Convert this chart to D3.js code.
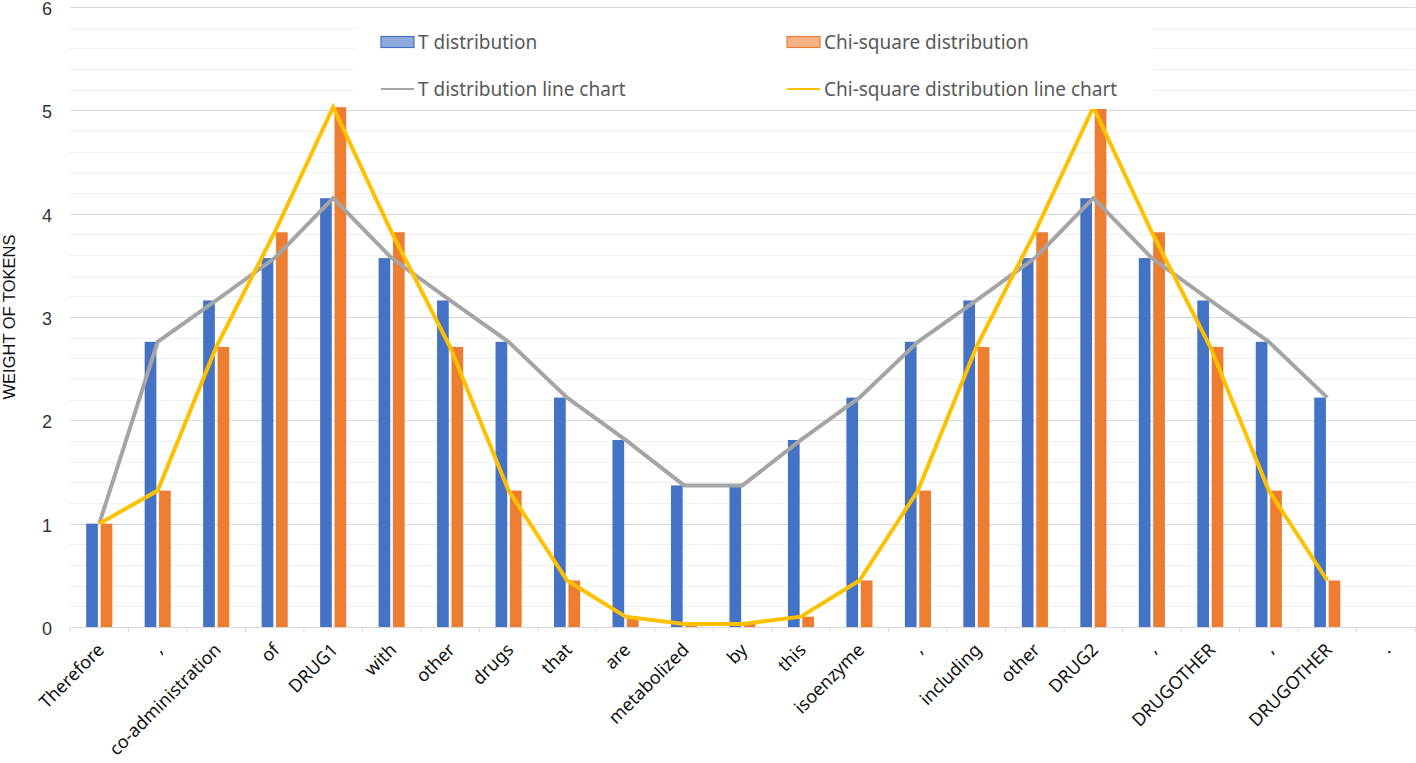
<!DOCTYPE html>
<html>
<head>
<meta charset="utf-8">
<script src="https://cdn.jsdelivr.net/npm/d3@7"></script>
<style>
  html, body { margin: 0; padding: 0; background: #fff; }
  svg { display: block; }
</style>
</head>
<body>
<svg id="chart" width="1416" height="763"></svg>
<script>
const categories = ["Therefore", ",", "co-administration", "of", "DRUG1", "with", "other", "drugs", "that", "are", "metabolized", "by", "this", "isoenzyme", ",", "including", "other", "DRUG2", ",", "DRUGOTHER", ",", "DRUGOTHER", "."];
const tValues =   [1.00, 2.76, 3.16, 3.57, 4.15, 3.57, 3.16, 2.76, 2.22, 1.81, 1.37, 1.37, 1.81, 2.22, 2.76, 3.16, 3.57, 4.15, 3.57, 3.16, 2.76, 2.22, null];
const chiValues = [1.00, 1.32, 2.71, 3.82, 5.03, 3.82, 2.71, 1.32, 0.45, 0.10, 0.03, 0.03, 0.10, 0.45, 1.32, 2.71, 3.82, 5.03, 3.82, 2.71, 1.32, 0.45, null];
const yTicks = [0, 1, 2, 3, 4, 5, 6];
const seriesNames = ["T distribution", "Chi-square distribution", "T distribution line chart", "Chi-square distribution line chart"];
const yTitle = "WEIGHT OF TOKENS";

(function () {
const svg = d3.select("#chart");
const pLeft = 70, pRight = 1415, pTop = 7, pBottom = 627;
const labelFont = "'Noto Sans', 'DejaVu Sans', sans-serif";
const numFont = "'Liberation Sans', Arial, sans-serif";

const x = d3.scaleBand().domain(d3.range(categories.length)).range([pLeft, pRight]).padding(0);
const y = d3.scaleLinear().domain([0, 6]).range([pBottom, pTop]);

// minor gridlines
const minor = d3.range(0, 6.001, 0.2).filter(v => Math.abs(v - Math.round(v)) > 1e-6);
svg.append("g").selectAll("line").data(minor).join("line")
  .attr("x1", pLeft).attr("x2", pRight)
  .attr("y1", d => Math.round(y(d)) + 0.5).attr("y2", d => Math.round(y(d)) + 0.5)
  .attr("stroke", "#f0f0f0").attr("stroke-width", 1);

// major gridlines
svg.append("g").selectAll("line").data(yTicks.filter(d => d > 0)).join("line")
  .attr("x1", pLeft).attr("x2", pRight)
  .attr("y1", d => Math.round(y(d)) + 0.5).attr("y2", d => Math.round(y(d)) + 0.5)
  .attr("stroke", "#d9d9d9").attr("stroke-width", 1);

// y axis labels
const yAxis = d3.axisLeft(y).tickValues(yTicks).tickSize(0).tickPadding(18).tickFormat(d3.format("d"));
const ya = svg.append("g").attr("transform", `translate(${pLeft},0)`).call(yAxis);
ya.select(".domain").remove();
ya.selectAll("text").attr("font-family", numFont).attr("font-size", 18).attr("fill", "#333")
  .attr("dy", "0.42em");

// y title
svg.append("text")
  .attr("transform", `translate(15,${y(3)}) rotate(-90)`)
  .attr("text-anchor", "middle")
  .attr("font-family", numFont).attr("font-size", 16.5).attr("fill", "#111")
  .text(yTitle);

// bars
const bw = 11.7, gap = 2.7;
const bars = svg.append("g");
bars.selectAll("rect.t").data(tValues.map((v, i) => ({v, i})).filter(d => d.v != null)).join("rect")
  .attr("class", "t")
  .attr("x", d => x(d.i) + x.bandwidth() / 2 - gap / 2 - bw)
  .attr("width", bw)
  .attr("y", d => y(d.v))
  .attr("height", d => y(0) - y(d.v))
  .attr("fill", "#4472C4");
bars.selectAll("rect.c").data(chiValues.map((v, i) => ({v, i})).filter(d => d.v != null)).join("rect")
  .attr("class", "c")
  .attr("x", d => x(d.i) + x.bandwidth() / 2 + gap / 2)
  .attr("width", bw)
  .attr("y", d => y(d.v))
  .attr("height", d => y(0) - y(d.v))
  .attr("fill", "#ED7D31");

// x axis line + ticks at band boundaries
svg.append("line").attr("x1", pLeft).attr("x2", pRight).attr("y1", pBottom + 0.5).attr("y2", pBottom + 0.5)
  .attr("stroke", "#d9d9d9").attr("stroke-width", 1);
svg.append("g").selectAll("line").data(d3.range(categories.length + 1)).join("line")
  .attr("x1", i => pLeft + i * x.bandwidth()).attr("x2", i => pLeft + i * x.bandwidth())
  .attr("y1", pBottom).attr("y2", pBottom + 5)
  .attr("stroke", "#d9d9d9").attr("stroke-width", 1);

// x labels
svg.append("g").selectAll("text").data(categories).join("text")
  .attr("transform", (d, i) => `translate(${x(i) + x.bandwidth() / 2 + 6},${651}) rotate(-45)`)
  .attr("text-anchor", "end")
  .attr("font-family", labelFont).attr("font-size", 18).attr("fill", "#111")
  .text(d => d);

// lines
const line = d3.line()
  .defined(d => d.v != null)
  .x(d => x(d.i) + x.bandwidth() / 2)
  .y(d => y(d.v));
svg.append("path").datum(tValues.map((v, i) => ({v, i})))
  .attr("d", line).attr("fill", "none").attr("stroke", "#A5A5A5").attr("stroke-width", 4);
svg.append("path").datum(chiValues.map((v, i) => ({v, i})))
  .attr("d", line).attr("fill", "none").attr("stroke", "#FFC000").attr("stroke-width", 4);

// legend
const lg = svg.append("g");
lg.append("rect").attr("x", 356).attr("y", 10).attr("width", 797).attr("height", 99).attr("fill", "#fff");
const legendItems = [
  {name: seriesNames[0], type: "bar", fill: "#8EA9DB", stroke: "#4472C4", x: 381, y: 42},
  {name: seriesNames[1], type: "bar", fill: "#F4B183", stroke: "#ED7D31", x: 787, y: 42},
  {name: seriesNames[2], type: "line", stroke: "#A5A5A5", x: 381, y: 89},
  {name: seriesNames[3], type: "line", stroke: "#FFC000", x: 787, y: 89}
];
legendItems.forEach(it => {
  if (it.type === "bar") {
    lg.append("rect").attr("x", it.x).attr("y", it.y - 5.5).attr("width", 33).attr("height", 11)
      .attr("fill", it.fill).attr("stroke", it.stroke).attr("stroke-width", 1.2);
  } else {
    lg.append("line").attr("x1", it.x).attr("x2", it.x + 33).attr("y1", it.y).attr("y2", it.y)
      .attr("stroke", it.stroke).attr("stroke-width", 2.2);
  }
  lg.append("text").attr("x", it.x + 37).attr("y", it.y).attr("dy", "0.35em")
    .attr("font-family", labelFont).attr("font-size", 19).attr("fill", "#595959")
    .text(it.name);
});
})();
</script>
</body>
</html>
